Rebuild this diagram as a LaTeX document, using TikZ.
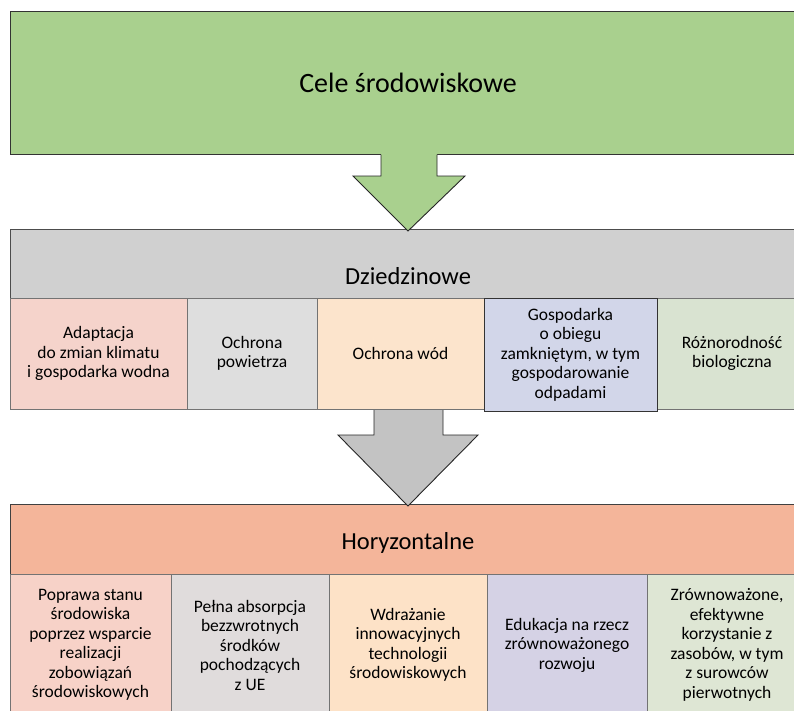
\documentclass[tikz,border=0pt]{standalone}
\usepackage{fontspec}
\setmainfont{Carlito}
\definecolor{cgreen}{HTML}{A9D08E}
\definecolor{cgrayhead}{HTML}{D0D0D0}
\definecolor{corangehead}{HTML}{F4B59A}
\definecolor{cgrayarrow}{HTML}{C3C3C3}
\definecolor{tA}{HTML}{F5D3CB}
\definecolor{tB}{HTML}{DEDEDE}
\definecolor{tC}{HTML}{FCE4CC}
\definecolor{tD}{HTML}{D2D6E9}
\definecolor{tE}{HTML}{D9E3D1}
\definecolor{bA}{HTML}{F7D2C8}
\definecolor{bB}{HTML}{E0DCDC}
\definecolor{bC}{HTML}{FDE2C7}
\definecolor{bD}{HTML}{D5D2E5}
\definecolor{bE}{HTML}{DEE6D4}
\begin{document}
\begin{tikzpicture}[x=1pt,y=-1pt,
  bigbox/.style={draw=black!80, line width=0.9pt, anchor=north west, inner sep=0pt, outer sep=0pt},
  cell/.style={draw=black!55, line width=0.8pt, anchor=north west, inner sep=2pt, outer sep=0pt,
    align=center, font=\fontsize{17.5}{19.5}\selectfont},
  titletext/.style={font=\fontsize{28}{32}\selectfont},
  headtext/.style={font=\fontsize{24.5}{28}\selectfont},
  arrowline/.style={draw=black!85, line width=0.9pt, line join=miter}
]
\useasboundingbox (0,0) rectangle (794,710);
\clip (0,0) rectangle (794,710);

% top green box
\node[bigbox, fill=cgreen, minimum width=800pt, minimum height=143pt] (cele) at (10,11) {};
\node[titletext] (celeT) at (408,83) {Cele środowiskowe};

% gray header
\node[bigbox, fill=cgrayhead, draw=black!70, minimum width=800pt, minimum height=69pt] (dz) at (10,229) {};
\node[headtext] (dzT) at (408,276) {Dziedzinowe};

% green arrow
\fill[cgreen] (381,152) -- (381,176) -- (353,176) -- (408,231) -- (465,176) -- (437,176) -- (437,152) -- cycle;
\draw[arrowline] (381,154.5) -- (381,176) -- (353,176) -- (408,231) -- (465,176) -- (437,176) -- (437,154.5);

% orange header
\node[bigbox, fill=corangehead, draw=black!75, minimum width=800pt, minimum height=70pt] (hz) at (10,504) {};
\node[headtext] (hzT) at (408,543) {Horyzontalne};

% gray arrow
\fill[cgrayarrow] (374,409) -- (374,435) -- (338,435) -- (408,506) -- (478,435) -- (443,435) -- (443,409) -- cycle;
\draw[arrowline] (374,409) -- (374,435) -- (338,435) -- (408,506) -- (478,435) -- (443,435) -- (443,409);

% top row cells
\node[cell, fill=tA, minimum width=177pt, minimum height=111pt] (t1) at (10,298)
  {Adaptacja\\do zmian klimatu\\i gospodarka wodna};
\node[cell, fill=tB, minimum width=130pt, minimum height=111pt] (t2) at (187,298)
  {Ochrona\\powietrza};
\node[cell, fill=tC, minimum width=167pt, minimum height=111pt] (t3) at (317,298)
  {Ochrona wód};
\node[cell, fill=tE, minimum width=150pt, minimum height=111pt] (t5) at (657,298)
  {Różnorodność\\biologiczna};
\node[cell, fill=tD, draw=black!80, minimum width=173pt, minimum height=113pt] (t4) at (484,298)
  {Gospodarka\\o obiegu\\zamkniętym, w tym\\gospodarowanie\\odpadami};

% bottom row cells
\node[cell, fill=bA, minimum width=161pt, minimum height=142pt] (b1) at (10,574)
  {Poprawa stanu\\środowiska\\poprzez wsparcie\\realizacji\\zobowiązań\\środowiskowych};
\node[cell, fill=bB, minimum width=158pt, minimum height=142pt] (b2) at (171,574)
  {Pełna absorpcja\\bezzwrotnych\\środków\\pochodzących\\z UE};
\node[cell, fill=bC, minimum width=158pt, minimum height=142pt] (b3) at (329,574)
  {Wdrażanie\\innowacyjnych\\technologii\\środowiskowych};
\node[cell, fill=bD, minimum width=160pt, minimum height=142pt] (b4) at (487,574)
  {Edukacja na rzecz\\zrównoważonego\\rozwoju};
\node[cell, fill=bE, minimum width=160pt, minimum height=142pt] (b5) at (647,574)
  {Zrównoważone,\\efektywne\\korzystanie z\\zasobów, w tym\\z surowców\\pierwotnych};
\end{tikzpicture}
\end{document}
